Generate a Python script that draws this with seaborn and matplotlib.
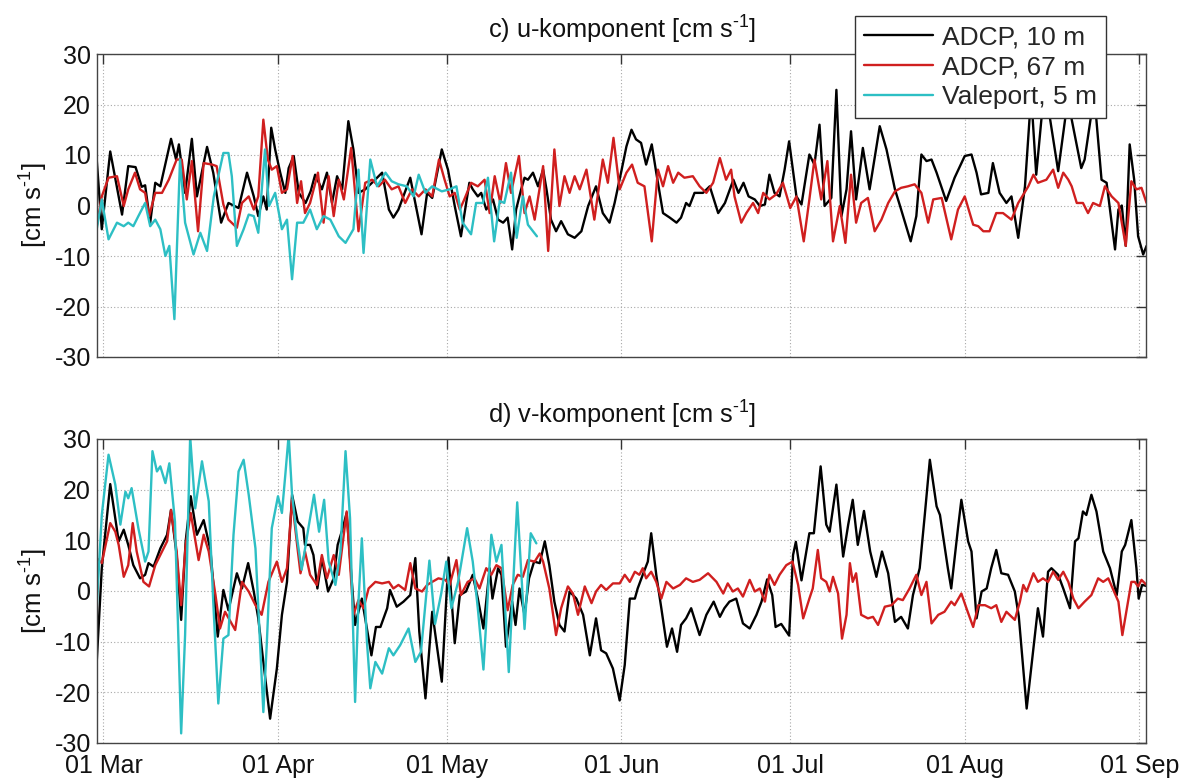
import numpy as np
import pandas as pd
import matplotlib
matplotlib.use("Agg")
import matplotlib.pyplot as plt
import matplotlib.dates as mdates
from matplotlib.lines import Line2D
import seaborn as sns

# ---------------- data: (day since 01 Mar, value in cm/s) ----------------
series_names = ["ADCP, 10 m", "ADCP, 67 m", "Valeport, 5 m"]
series_colors = ["#000000", "#d01f1f", "#2dbfc4"]
month_ticks = ["01 Mar", "01 Apr", "01 May", "01 Jun", "01 Jul", "01 Aug", "01 Sep"]
panel_titles = ["c) u-komponent [cm s$^{\\text{-1}}$]",
                "d) v-komponent [cm s$^{\\text{-1}}$]"]
y_label = "[cm s$^{\\text{-1}}$]"

u_adcp10 = [(-1.2, 9.1), (-0.3, -4.7), (1.2, 10.7), (3.3, -1.8), (4.4, 7.8), (5.7, 7.6), (6.8, 3.7), (7.4, 4.0),
            (8.3, -3.4), (9.2, 4.5), (10.1, 3.8), (12.0, 13.2), (12.9, 9.1), (13.4, 12.1), (14.5, 2.5), (15.7, 13.2),
            (16.6, 1.8), (18.4, 11.6), (19.5, 6.5), (20.9, -3.4), (22.2, 0.5), (24.0, -0.5), (25.5, 6.5), (26.7, 1.8),
            (27.5, -2.1), (28.4, 1.8), (29.0, -0.8), (29.8, 15.4), (30.5, 11.1), (31.4, 6.5), (32.3, 2.5), (32.9, 7.4),
            (33.8, 9.8), (34.7, 2.5), (35.9, 0.5), (36.8, 2.8), (37.6, 6.1), (38.8, 3.2), (39.7, 6.5), (40.6, 0.5),
            (41.5, 5.8), (42.4, 3.2), (43.5, 16.7), (44.4, 11.1), (45.3, 2.5), (46.5, 3.2), (47.7, 4.5), (49.5, 6.5),
            (50.7, -0.8), (51.5, -2.4), (52.4, -0.8), (54.5, 5.5), (55.4, 0.5), (56.5, -5.7), (57.5, 2.5), (58.4, 1.5),
            (60.1, 11.1), (61.2, 7.1), (62.4, -0.1), (63.5, -6.1), (65.0, 4.5), (65.6, 3.2), (66.5, 1.8), (67.1, 2.5),
            (68.0, -0.8), (69.2, 1.2), (70.1, -2.8), (71.0, -3.4), (71.8, -2.4), (72.6, -8.7), (73.3, -0.8), (74.2, 3.2),
            (74.8, 5.5), (75.4, 5.1), (76.3, 6.5), (77.2, 3.8), (78.1, 7.1), (78.7, 3.2), (79.5, -2.8), (80.4, -5.1),
            (81.3, -3.1), (82.5, -5.7), (83.7, -6.4), (84.9, -5.1), (86.1, -0.1), (87.5, 3.8), (88.7, -1.5), (89.9, -3.4),
            (90.8, 0.5), (92.0, 6.8), (92.9, 11.7), (93.8, 15.0), (94.6, 13.1), (95.5, 12.4), (96.4, 8.1), (97.4, 12.1),
            (98.2, 6.5), (99.4, -1.5), (100.6, -2.4), (101.8, -3.4), (102.6, -2.4), (103.5, 0.5), (104.1, -0.1),
            (105.0, 2.5), (106.5, 2.5), (107.7, 3.8), (109.2, -1.5), (110.4, 0.5), (111.9, 5.1), (112.8, 2.5),
            (113.7, 4.5), (114.6, 1.8), (115.7, 1.2), (116.6, -0.1), (117.5, 0.2), (118.3, 6.1), (119.2, 2.5),
            (120.1, 1.8), (121.0, 7.1), (121.8, 12.7), (123.1, 1.8), (124.0, 0.2), (125.4, 10.1), (126.3, 8.1),
            (127.2, 16.0), (128.1, -0.1), (129.3, 1.5), (130.2, 22.9), (131.1, -2.1), (132.0, 3.2), (132.8, 14.7),
            (133.7, 1.2), (134.9, 11.4), (136.1, 3.2), (137.9, 15.7), (139.1, 11.1), (140.6, 3.2), (141.7, -0.8),
            (143.4, -7.1), (144.4, -2.1), (145.3, 10.1), (146.2, 8.8), (147.1, 9.1), (148.0, 6.5), (149.7, 0.9),
            (151.2, 5.5), (153.0, 9.8), (154.2, 10.1), (155.1, 6.5), (155.9, 2.2), (157.2, 2.5), (158.0, 8.4),
            (159.2, 2.5), (160.4, 0.5), (161.3, 1.8), (162.5, -6.4), (163.7, 3.8), (164.8, 22.0), (165.7, 6.1),
            (167.2, 24.0), (169.6, 6.8), (171.3, 21.0), (173.7, 7.4), (174.3, 9.1), (176.0, 22.0), (177.3, 5.1),
            (178.2, 4.5), (179.1, -3.4), (179.7, -8.7), (180.3, -0.8), (180.9, 0.0), (181.6, -8.0), (182.3, 12.1),
            (183.1, 5.1), (183.8, -6.1), (184.7, -9.7), (185.3, -8.0)]

u_adcp67 = [(-1.2, -4.1), (-0.3, 1.8), (0.9, 5.5), (2.4, 5.8), (3.6, -0.1), (4.4, 3.2), (5.6, 6.5), (6.5, 3.2),
            (7.4, 2.5), (8.1, -2.1), (9.2, 2.5), (10.4, 2.5), (11.6, 5.1), (13.0, 9.1), (13.9, 9.1), (14.8, 1.2),
            (15.7, 8.8), (16.8, -5.1), (17.8, 8.4), (19.3, 8.1), (20.1, 7.8), (21.3, 0.2), (22.2, -2.8), (23.7, -4.4),
            (24.6, 0.5), (25.8, 1.8), (26.7, -0.8), (27.5, 1.8), (28.4, 17.0), (29.2, 9.1), (29.9, 7.1), (30.8, 7.8),
            (31.7, 2.5), (32.6, 3.2), (33.6, 9.8), (34.4, 0.5), (35.1, 4.8), (35.8, -1.5), (36.7, 0.5), (38.1, 6.5),
            (39.1, -3.4), (40.0, 5.8), (40.9, -2.1), (41.8, 5.1), (42.7, 1.2), (44.0, 11.4), (45.3, -5.1), (46.5, 4.5),
            (47.7, 5.1), (48.9, 3.8), (50.0, 5.1), (51.2, 3.2), (52.4, 3.8), (53.6, 0.5), (54.8, 3.2), (56.0, 1.8),
            (57.2, 3.2), (58.4, 1.8), (59.6, 9.1), (60.6, 5.1), (61.5, 1.8), (62.4, 2.5), (63.3, -0.8), (64.1, 1.2),
            (65.3, 4.5), (66.5, 3.8), (67.7, 5.1), (68.6, -1.5), (69.5, 5.8), (70.5, 0.5), (71.5, 8.4), (72.4, 2.5),
            (73.8, 9.8), (74.8, -1.5), (75.7, 1.8), (76.6, -2.8), (78.1, 7.8), (79.0, -9.0), (80.1, 11.1), (81.0, -0.1),
            (81.9, 5.8), (82.8, 2.5), (83.7, 5.8), (84.6, 3.2), (85.8, 7.1), (87.2, -2.8), (88.7, 9.1), (89.6, 4.5),
            (90.6, 13.4), (91.7, 3.2), (92.9, 6.5), (93.9, 8.1), (94.9, 4.5), (96.1, 3.8), (97.4, -7.1), (98.5, 7.1),
            (99.4, 3.8), (100.3, 7.8), (101.2, 4.5), (102.1, 6.5), (103.2, 5.5), (104.7, 5.8), (105.9, 3.8),
            (107.1, 2.5), (108.3, 4.5), (109.5, 9.4), (110.6, 5.1), (111.5, 7.1), (112.1, 1.8), (113.3, -3.4),
            (114.2, -1.5), (115.4, 0.5), (116.3, -1.5), (117.2, 2.5), (118.3, 1.2), (119.5, 2.2), (120.7, 4.5),
            (122.0, -0.5), (123.1, 1.8), (124.4, -7.1), (125.4, 1.2), (126.3, 9.1), (127.5, 1.2), (128.6, 8.8),
            (129.6, -7.1), (130.8, -0.1), (131.8, -7.4), (132.8, 6.1), (133.7, -3.4), (134.6, 0.5), (135.8, 1.5),
            (137.0, -5.1), (138.2, -2.8), (139.4, 0.5), (140.6, 2.8), (141.7, 3.5), (142.9, 3.8), (144.1, 4.2),
            (145.3, 2.5), (146.5, -3.4), (147.4, 1.2), (148.9, 1.5), (150.6, -6.7), (151.8, -0.8), (153.0, 1.8),
            (154.5, -3.8), (155.4, -4.1), (156.3, -5.1), (157.4, -5.1), (158.6, -1.5), (159.8, -1.5), (161.3, -2.8),
            (162.5, 0.5), (164.3, 3.8), (165.2, 6.1), (166.0, 4.5), (167.5, 5.1), (168.7, 7.1), (169.6, 3.5),
            (170.5, 6.5), (171.4, 5.1), (172.0, 3.8), (172.9, 0.5), (174.0, 0.5), (174.9, -1.5), (175.8, 0.5),
            (177.0, -0.1), (177.9, 3.8), (179.1, 1.8), (180.3, 0.5), (181.6, -8.0), (182.6, 4.8), (183.5, 3.2),
            (184.4, 3.5), (185.3, 0.5)]

u_valeport = [(-1.2, -4.7), (-0.3, 1.2), (0.9, -6.7), (2.4, -3.4), (3.6, -4.1), (4.4, -3.4), (5.3, -4.1), (6.2, -2.1),
              (7.4, 0.5), (8.3, -4.1), (9.2, -2.8), (10.1, -4.7), (11.0, -10.0), (11.7, -8.0), (12.6, -22.5),
              (13.6, 9.1), (14.5, -3.4), (16.0, -9.7), (17.2, -5.4), (18.4, -9.0), (19.6, 1.8), (21.3, 10.4),
              (22.2, 10.4), (22.8, 5.8), (23.7, -8.0), (24.9, -4.7), (25.8, -1.8), (26.7, -2.1), (27.5, -5.4),
              (28.7, 11.1), (29.4, -0.1), (30.5, 2.5), (31.7, -4.7), (32.6, -2.8), (33.5, -14.6), (34.4, -3.4),
              (35.5, -3.4), (36.7, -0.8), (37.9, -4.7), (39.1, -2.1), (40.3, -2.8), (41.8, -6.1), (43.0, -7.4),
              (44.4, -4.7), (45.3, 7.1), (46.2, -9.4), (47.4, 9.1), (48.6, 3.8), (50.1, 6.5), (51.2, 4.8), (52.4, 4.2),
              (53.9, 3.8), (55.1, 1.8), (56.0, 6.1), (57.2, 2.5), (58.4, 3.8), (60.1, 2.8), (61.5, 3.2), (62.7, 3.8),
              (63.8, -3.4), (65.3, -5.7), (66.2, 0.5), (67.4, 0.5), (68.3, 5.5), (69.4, -7.1), (70.4, 0.9),
              (71.2, 0.5), (72.4, 6.5), (73.4, -6.4), (74.5, 1.8), (75.4, -3.8), (76.3, -5.1), (77.0, -6.1)]

v_adcp10 = [(-1.2, -14.0), (-0.3, 4.5), (0.3, 11.1), (1.2, 21.1), (2.1, 14.4), (2.7, 9.8), (3.6, 12.1), (4.4, 9.1),
            (5.3, 5.1), (6.5, 2.5), (7.4, 3.2), (8.0, 5.5), (8.9, 4.8), (10.1, 8.4), (11.3, 11.1), (12.0, 16.0),
            (13.0, 7.1), (13.8, -5.7), (14.6, 9.8), (15.5, 18.7), (16.6, 11.1), (17.8, 14.0), (19.0, 8.1),
            (20.3, -9.0), (21.3, 0.2), (22.2, -3.8), (23.7, 3.5), (24.6, 0.5), (25.7, 5.5), (26.7, -0.1),
            (27.5, -5.4), (28.4, -14.0), (29.6, -25.2), (30.8, -15.3), (31.7, -4.7), (32.6, 1.8), (33.5, 19.0),
            (34.5, 13.7), (35.5, 12.4), (35.8, 9.1), (36.7, 9.1), (37.3, 7.1), (38.0, 0.5), (38.8, 6.5),
            (39.9, -0.1), (40.9, 2.5), (41.6, 9.1), (42.4, 12.0), (43.2, 15.4), (44.7, -6.7), (45.9, -1.5),
            (46.8, -7.4), (47.6, -12.7), (48.4, -7.1), (49.2, -7.1), (50.4, -3.4), (50.9, 0.2), (52.1, -3.1),
            (53.3, -2.1), (54.5, -0.8), (55.4, 6.5), (56.1, -8.0), (57.2, -21.2), (58.4, -4.1), (60.1, -17.9),
            (61.3, 6.6), (62.4, -10.3), (63.3, -0.8), (64.4, -0.1), (65.6, 3.2), (66.5, -1.5), (67.5, -7.4),
            (68.6, 4.5), (69.1, -1.5), (70.1, 4.5), (70.7, 3.2), (71.5, -11.0), (72.6, -2.1), (73.2, -6.7),
            (73.9, 0.5), (74.8, -4.7), (75.6, 2.5), (76.5, 5.8), (77.5, 5.5), (78.4, 9.8), (79.2, 5.1),
            (80.1, -2.1), (81.0, -6.7), (81.9, -8.0), (82.8, -0.1), (84.0, -1.5), (85.2, -4.7), (86.4, -12.7),
            (87.5, -5.4), (88.4, -11.7), (89.3, -12.3), (90.5, -15.3), (91.7, -21.6), (92.6, -14.6), (93.5, -1.5),
            (94.4, -1.5), (94.9, 0.5), (95.8, 3.2), (96.7, 5.8), (97.3, 11.4), (98.2, 3.2), (99.1, -3.4),
            (100.1, -11.0), (101.0, -7.4), (101.9, -12.0), (102.6, -6.7), (103.5, -5.4), (104.4, -3.4),
            (105.9, -8.7), (107.1, -4.7), (108.4, -2.1), (109.5, -5.1), (110.3, -3.4), (111.2, -2.1), (112.4, -1.5),
            (113.6, -6.4), (114.8, -7.4), (116.0, -4.7), (116.9, -2.1), (117.9, 2.3), (118.8, -0.8), (119.4, -7.1),
            (120.4, -6.5), (121.8, -8.8), (122.5, 7.1), (123.0, 9.7), (124.0, 2.1), (125.4, 11.4), (126.2, 11.4),
            (127.4, 24.6), (128.4, 13.1), (129.0, 11.7), (130.2, 21.0), (131.4, 6.8), (132.3, 13.1), (133.1, 18.0),
            (134.0, 9.1), (135.1, 15.8), (136.2, 7.8), (137.3, 2.8), (138.3, 7.8), (139.4, 3.5), (140.6, -6.1),
            (141.7, -5.1), (142.9, -7.4), (143.8, -0.8), (145.0, 4.5), (145.9, 15.0), (146.8, 25.9), (148.0, 16.7),
            (148.6, 15.0), (150.0, 4.5), (150.6, 0.5), (151.8, 12.4), (152.4, 18.0), (153.6, 9.8), (154.2, 7.8),
            (155.1, -5.4), (156.0, -0.1), (156.9, 0.5), (157.7, 4.5), (158.6, 8.1), (159.5, 3.5), (160.7, 3.2),
            (161.9, -0.1), (162.6, -5.0), (164.0, -23.2), (165.2, -11.3), (166.0, -3.4), (166.9, -9.0),
            (167.8, 3.8), (168.4, 4.5), (169.6, 3.2), (170.5, 0.5), (171.7, -3.4), (172.6, 9.8), (173.2, 10.4),
            (174.0, 15.7), (174.6, 15.0), (175.5, 19.0), (176.4, 15.7), (177.6, 7.8), (178.8, 4.5), (180.0, -0.8),
            (180.9, 7.8), (181.5, 9.1), (182.6, 14.0), (183.5, 4.5), (183.9, -1.5), (184.5, 1.2), (185.3, 1.0)]

v_adcp67 = [(-1.2, 6.5), (-0.3, 5.5), (1.2, 13.4), (2.1, 11.7), (2.7, 9.1), (3.6, 2.8), (4.4, 5.1), (5.2, 13.4),
            (5.9, 7.8), (7.1, 1.8), (8.1, 0.9), (9.2, 5.1), (10.4, 7.8), (11.3, 9.8), (12.0, 16.0), (13.0, 7.8),
            (13.8, -2.8), (14.6, 9.1), (15.5, 15.4), (16.9, 6.1), (17.8, 11.1), (18.7, 7.8), (19.9, -0.8),
            (20.7, -7.4), (21.6, -4.1), (23.4, -7.7), (24.6, 1.8), (25.8, -0.1), (27.0, -2.8), (28.1, -4.7),
            (29.3, 1.8), (30.8, 5.8), (31.7, 1.8), (32.6, 4.5), (33.5, 18.0), (34.4, 9.1), (35.0, 3.5), (35.8, 7.8),
            (36.7, 3.2), (37.9, 1.2), (38.8, 7.1), (39.7, 2.5), (40.9, 7.1), (41.8, 3.2), (43.2, 15.7),
            (44.4, -4.7), (45.3, -1.8), (46.2, -3.4), (47.1, 0.5), (48.3, 1.8), (49.5, 1.5), (50.7, 1.8),
            (51.5, 0.5), (52.4, 1.2), (53.6, 0.2), (54.5, 5.5), (55.4, 0.5), (56.6, -0.1), (57.5, 1.2), (58.4, 1.8),
            (59.5, 2.5), (60.7, 2.2), (61.5, 1.2), (62.7, 6.1), (63.5, -0.8), (64.7, 1.8), (65.9, 2.5), (66.8, 0.5),
            (68.0, 4.5), (68.9, 3.2), (69.8, 5.1), (70.7, 4.5), (71.8, -3.8), (72.7, 1.2), (73.6, 3.2), (74.5, 2.8),
            (75.4, 6.1), (76.6, 5.8), (77.5, 7.4), (78.1, 5.8), (79.2, 0.5), (80.4, -8.7), (81.3, -3.4), (82.5, 0.9),
            (83.4, -0.5), (84.3, -4.7), (85.5, 0.9), (86.7, -2.4), (87.5, -0.1), (88.4, 1.2), (89.3, 0.2),
            (90.5, 1.5), (91.7, 1.5), (92.6, 3.2), (93.5, 1.8), (94.4, 3.8), (95.2, 3.2), (95.8, 4.5), (96.4, 2.5),
            (97.3, 3.8), (98.2, 1.8), (99.1, -1.5), (100.0, 1.8), (101.2, 0.5), (102.4, 1.2), (103.5, 2.5),
            (104.7, 1.8), (105.9, 2.2), (107.4, 3.5), (108.9, 1.8), (110.1, -0.5), (110.9, 1.5), (111.8, -0.1),
            (112.7, 0.5), (113.6, -1.1), (114.8, 2.2), (115.7, -0.1), (116.6, 0.5), (117.5, -2.1), (118.3, 3.2),
            (119.2, 1.2), (120.1, 3.2), (121.3, 5.1), (122.4, 5.8), (123.4, 1.2), (124.3, -5.4), (125.4, -1.5),
            (126.0, 0.5), (126.9, 8.1), (127.5, 2.5), (128.4, 1.8), (129.0, -0.1), (129.6, 2.8), (130.5, -0.5),
            (131.2, -9.4), (132.0, -4.7), (132.6, 5.5), (133.1, 1.8), (133.7, 3.5), (134.6, -4.7), (135.8, -5.4),
            (136.7, -5.1), (137.6, -6.7), (138.8, -3.1), (140.0, -2.8), (141.1, -1.5), (142.0, -1.8), (143.2, 0.5),
            (144.4, 3.2), (145.3, -0.8), (146.2, 1.8), (147.1, -6.4), (148.3, -4.7), (149.4, -4.1), (150.6, -2.1),
            (151.2, -2.8), (152.4, -0.5), (153.3, -3.4), (154.5, -7.1), (155.4, -2.8), (156.6, -2.8), (157.7, -3.4),
            (158.6, -2.8), (159.5, -6.1), (160.4, -4.1), (161.9, -5.7), (162.8, -2.1), (163.4, 1.2), (164.0, -0.1),
            (165.2, 3.5), (166.0, 1.8), (166.9, 2.5), (167.8, 1.8), (168.7, 3.8), (169.6, 2.2), (170.5, 3.8),
            (171.4, 1.8), (172.3, -1.5), (173.2, -3.4), (174.3, -2.1), (175.5, -0.8), (176.7, 2.5), (177.6, 1.8),
            (178.5, 2.5), (179.4, 0.2), (180.3, -2.1), (181.0, -8.7), (181.8, -3.4), (182.6, 1.8), (183.2, 1.8),
            (183.8, 0.9), (184.4, 2.2), (185.3, 1.2)]

v_valeport = [(-1.2, -3.4), (-0.3, 15.0), (0.9, 26.9), (2.1, 21.0), (3.0, 13.1), (3.9, 19.6), (4.4, 18.3),
              (5.0, 20.3), (6.2, 12.4), (7.4, 5.8), (8.0, 7.8), (8.7, 27.6), (9.5, 23.6), (10.1, 24.6), (11.0, 21.3),
              (11.7, 25.2), (12.7, 13.7), (13.8, -28.1), (14.5, -8.7), (15.4, 30.5), (16.3, 16.3), (17.5, 25.6),
              (18.7, 17.7), (19.5, -2.1), (20.4, -22.2), (21.3, -9.4), (22.2, -8.7), (23.1, 11.1), (24.0, 23.6),
              (24.9, 25.9), (25.8, 19.0), (27.0, 8.4), (27.8, -10.0), (28.4, -23.9), (29.0, -10.7), (29.9, 12.4),
              (31.0, 18.7), (31.7, 15.4), (32.3, 22.9), (32.9, 30.8), (33.5, 19.0), (34.4, 10.4), (35.2, 4.2),
              (36.4, 12.4), (37.4, 19.0), (38.3, 11.7), (39.2, 18.0), (40.0, 5.8), (41.2, 1.2), (42.1, 7.8),
              (43.0, 27.6), (43.8, 14.4), (44.7, -21.9), (45.3, -2.1), (45.9, 10.4), (46.8, -10.0), (47.4, -19.2),
              (48.3, -14.0), (49.5, -16.3), (50.7, -11.3), (51.5, -12.7), (52.7, -10.7), (54.2, -7.4), (55.4, -14.0),
              (56.4, -12.0), (57.9, 6.0), (58.9, -6.5), (60.0, -0.5), (60.9, 5.8), (61.8, -3.4), (63.0, 1.8),
              (64.6, 12.4), (65.6, 5.8), (66.5, -3.4), (67.5, -15.5), (68.9, 11.1), (69.8, 5.8), (70.7, 9.1),
              (72.0, -16.0), (73.5, 17.5), (74.8, -7.5), (75.9, 11.4), (76.9, 9.4)]

panel_data = [[u_adcp10, u_adcp67, u_valeport], [v_adcp10, v_adcp67, v_valeport]]

START = pd.Timestamp("2012-03-01")


def long_frame(series_list):
    frames = []
    for name, pairs in zip(series_names, series_list):
        df = pd.DataFrame(pairs, columns=["day", "value"])
        df["time"] = START + pd.to_timedelta(df["day"], unit="D")
        df["series"] = name
        frames.append(df)
    return pd.concat(frames, ignore_index=True)


# ---------------- styling ----------------
sns.set_theme(style="white")
plt.rcParams["font.family"] = ["Liberation Sans", "DejaVu Sans"]
plt.rcParams["mathtext.fontset"] = "custom"
plt.rcParams["mathtext.rm"] = "Liberation Sans"
plt.rcParams["axes.unicode_minus"] = False
plt.rcParams["lines.solid_joinstyle"] = "round"
plt.rcParams["lines.solid_capstyle"] = "round"

W, H = 1188, 781
fig = plt.figure(figsize=(W / 100, H / 100), dpi=100)
fig.patch.set_facecolor("white")

ax_left = 97 / W
ax_width = (1146 - 97) / W
axes_boxes = [(ax_left, 1 - 357 / H, ax_width, 303 / H),
              (ax_left, 1 - 743 / H, ax_width, 304 / H)]

palette = dict(zip(series_names, series_colors))

axes = []
for i, (box, data) in enumerate(zip(axes_boxes, panel_data)):
    ax = fig.add_axes(box)
    df = long_frame(data)
    sns.lineplot(data=df, x="time", y="value", hue="series", hue_order=series_names,
                 palette=palette, estimator=None, sort=False, linewidth=1.7,
                 legend=False, ax=ax)
    for ln in ax.get_lines():
        ln.set_solid_joinstyle("round")
    ax.set_xlim(START - pd.Timedelta(days=1.15), START + pd.Timedelta(days=185.2))
    ax.set_ylim(-30, 30)
    ax.set_yticks([-30, -20, -10, 0, 10, 20, 30])
    ax.xaxis.set_major_locator(mdates.MonthLocator(bymonthday=1))
    ax.xaxis.set_major_formatter(mdates.DateFormatter("%d %b"))
    ax.grid(True, which="major", color="#a8a8a8", linestyle=(0, (1, 2)), linewidth=0.8)
    ax.set_axisbelow(True)
    ax.tick_params(direction="in", top=True, right=True, length=7, width=1,
                   color="#333333", labelsize=18, labelcolor="#111111")
    ax.tick_params(axis="y", pad=4.5)
    ax.tick_params(axis="x", pad=8)
    for sp in ax.spines.values():
        sp.set_color("#444444")
        sp.set_linewidth(1.0)
    ax.set_xlabel("")
    ax.set_ylabel(y_label, fontsize=18.5, color="#111111")
    ax.yaxis.set_label_coords(-0.046, 0.5)
    ax.set_title(panel_titles[i], fontsize=18.3, pad=11, color="#111111")
    if i == 0:
        ax.tick_params(axis="x", labelbottom=False)
    axes.append(ax)

handles = [Line2D([], [], color=c, linewidth=1.7) for c in series_colors]
leg = axes[0].legend(handles, series_names, loc="upper right",
                     bbox_to_anchor=(1106 / W, 1 - 16 / H), bbox_transform=fig.transFigure,
                     fontsize=19, frameon=True, fancybox=False, framealpha=1,
                     edgecolor="#333333", handlelength=2.6, handletextpad=0.35,
                     borderpad=0.35, labelspacing=0.22, borderaxespad=0)
leg.get_frame().set_linewidth(1.0)
leg.set_zorder(10)

fig.savefig("out.png", dpi=100)
